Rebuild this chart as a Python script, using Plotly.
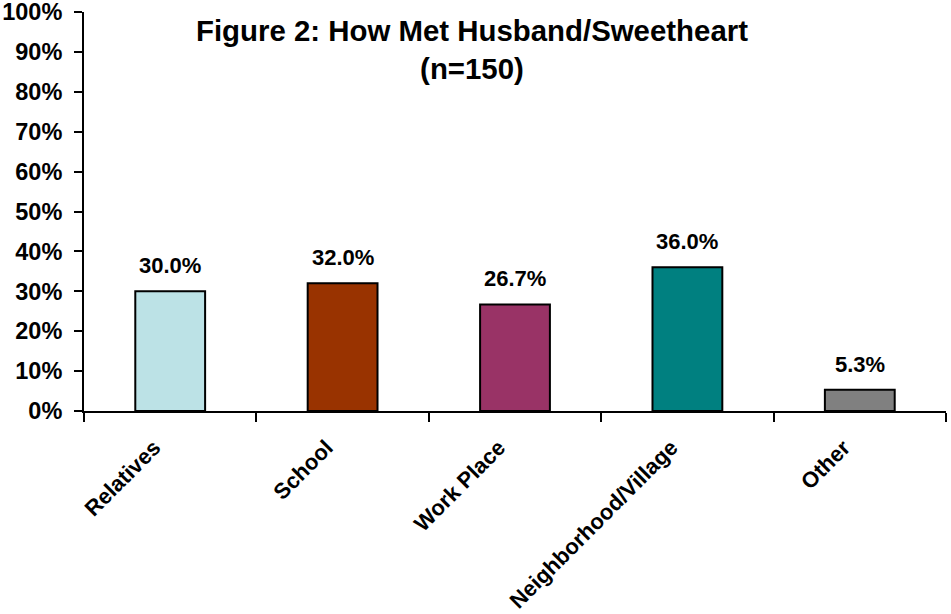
import plotly.graph_objects as go

categories = ["Relatives", "School", "Work Place", "Neighborhood/Village", "Other"]
values = [30.0, 32.0, 26.7, 36.0, 5.3]
colors = ["#BCE2E6", "#993300", "#993366", "#008080", "#808080"]
labels = [f"{v:.1f}%" for v in values]

font = "Liberation Sans, Arial, sans-serif"

fig = go.Figure(go.Bar(
    x=categories, y=values,
    marker=dict(color=colors, line=dict(color="black", width=2)),
    width=0.405, cliponaxis=False, hoverinfo="skip",
))

annotations = [dict(
    text="<b>Figure 2: How Met Husband/Sweetheart<br>(n=150)</b>",
    xref="paper", yref="paper", x=(472 - 84) / 862, y=1.0,
    xanchor="center", yanchor="top", yshift=0, showarrow=False,
    font=dict(family=font, size=29.4, color="black"),
)]
for c, v, t in zip(categories, values, labels):
    annotations.append(dict(
        text=f"<b>{t}</b>", x=c, y=v, xref="x", yref="y",
        xanchor="center", yanchor="bottom", yshift=11, showarrow=False,
        font=dict(family=font, size=22, color="black"),
    ))

fig.update_layout(
    width=951, height=614,
    margin=dict(l=84, r=5, t=12, b=203),
    paper_bgcolor="white", plot_bgcolor="white",
    showlegend=False,
    font=dict(family=font, size=22, color="black"),
    annotations=annotations,
)
fig.update_xaxes(
    automargin=False,
    showline=True, linecolor="black", linewidth=2,
    ticks="outside", tickson="boundaries", ticklen=9, tickwidth=2, tickcolor="black",
    tickangle=-45, tickfont=dict(family=font, size=22, color="black"),
    tickprefix="<b>", ticksuffix="</b>", ticklabelstandoff=13, ticklabelshift=-16,
    ticklabeloverflow="allow",
    showgrid=False,
)
fig.update_yaxes(
    automargin=False,
    range=[0, 100], dtick=10, tickprefix="<b>", ticksuffix="%</b>",
    showline=True, linecolor="black", linewidth=2,
    ticks="outside", ticklen=8, tickwidth=2, tickcolor="black",
    tickfont=dict(family=font, size=23.5, color="black"),
    ticklabelstandoff=7, ticklabeloverflow="allow",
    showgrid=False, zeroline=False,
)

fig.write_html(
    "out.html",
    config={"displayModeBar": False, "staticPlot": True},
    post_script="document.body.style.margin='0';document.body.style.overflow='hidden';",
)
